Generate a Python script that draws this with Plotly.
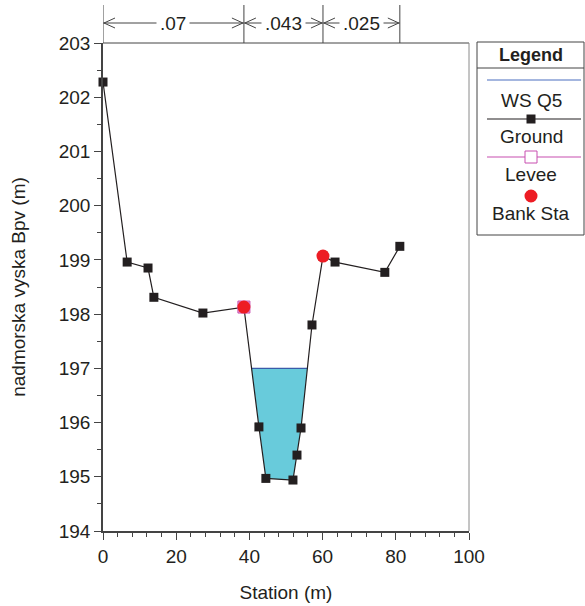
import plotly.graph_objects as go

# Cross-section survey data
station = [0, 6.6, 12.3, 13.9, 27.3, 38.5, 42.6, 44.5, 51.9, 53.0, 54.1, 57.1, 60.1, 63.4, 77.0, 81.1]
elevation = [202.28, 198.96, 198.85, 198.31, 198.02, 198.13, 195.92, 194.97, 194.94,
             195.40, 195.90, 197.80, 199.07, 198.96, 198.77, 199.25]
bank_station = [38.5, 60.1]
bank_elev = [198.13, 199.07]
levee_station = [38.5]
levee_elev = [198.13]
ws_q5 = 197.0

# Manning's n zones
n_breaks = [0, 38.5, 60.1, 81.1]
n_values = [".07", ".043", ".025"]

# Axis ticks
x_ticks = [0, 20, 40, 60, 80, 100]
y_ticks = [194, 195, 196, 197, 198, 199, 200, 201, 202, 203]

W, H = 585, 606
L, R, T, B = 103, 469, 43, 531
FONT = "Liberation Sans, Arial, sans-serif"
FS = 19
INK = "#231f20"


def px(p):
    return (p - L) / (R - L)


def py(p):
    return (B - p) / (B - T)


def water_polygon(xs, ys, level):
    """Wetted area below the water level, bounded by the ground profile."""
    pts = []
    for i in range(len(xs) - 1):
        x0, y0, x1, y1 = xs[i], ys[i], xs[i + 1], ys[i + 1]
        if y0 <= level:
            pts.append((x0, y0))
        if (y0 - level) * (y1 - level) < 0:
            t = (level - y0) / (y1 - y0)
            pts.append((x0 + t * (x1 - x0), level))
    if ys[-1] <= level:
        pts.append((xs[-1], ys[-1]))
    px_, py_ = zip(*pts)
    return list(px_) + [px_[0]], list(py_) + [py_[0]]


wx, wy = water_polygon(station, elevation, ws_q5)

fig = go.Figure()

fig.add_trace(go.Scatter(
    x=wx, y=wy, mode="lines", fill="toself",
    fillcolor="#68cbdb", line=dict(color="rgba(0,0,0,0)", width=0),
    hoverinfo="skip", showlegend=False))

# Water surface line
wet = [x for x, y in zip(wx, wy) if abs(y - ws_q5) < 1e-9]
fig.add_trace(go.Scatter(
    x=[min(wet), max(wet)], y=[ws_q5, ws_q5], mode="lines",
    line=dict(color="#3b5ba9", width=1.2), showlegend=False))

fig.add_trace(go.Scatter(
    x=station, y=elevation, mode="lines+markers", cliponaxis=False,
    line=dict(color=INK, width=1.2),
    marker=dict(symbol="square", size=9, color=INK),
    showlegend=False))

fig.add_trace(go.Scatter(
    x=levee_station, y=levee_elev, mode="markers",
    marker=dict(symbol="square", size=12, color="#e8a0d8",
                line=dict(color="#c84fb0", width=1)),
    showlegend=False))

fig.add_trace(go.Scatter(
    x=bank_station, y=bank_elev, mode="markers",
    marker=dict(symbol="circle", size=13, color="#ed1c24"),
    showlegend=False))

shapes = []
annotations = []
AX = "#444444"
LIGHT = "#8a8a8a"

# Top and right frame lines
shapes.append(dict(type="line", xref="paper", yref="paper", x0=0, x1=1, y0=1, y1=1,
                   line=dict(color=AX, width=1)))
shapes.append(dict(type="line", xref="paper", yref="paper", x0=1, x1=1, y0=0, y1=1,
                   line=dict(color=LIGHT, width=1)))

# Manning's n zone markers above the plot
arrow_y = py(23)
for b in n_breaks:
    shapes.append(dict(type="line", xref="x", yref="paper", x0=b, x1=b,
                       y0=py(5), y1=1, line=dict(color=AX, width=1)))
for i, label in enumerate(n_values):
    a, b = n_breaks[i], n_breaks[i + 1]
    shapes.append(dict(type="line", xref="x", yref="paper", x0=a, x1=b,
                       y0=arrow_y, y1=arrow_y, line=dict(color=AX, width=1)))
    shapes.append(dict(type="path", xref="x", yref="paper", xsizemode="pixel",
                       ysizemode="pixel", xanchor=a, yanchor=arrow_y,
                       path="M 12,-5 L 1,0 L 12,5", line=dict(color=AX, width=1)))
    shapes.append(dict(type="path", xref="x", yref="paper", xsizemode="pixel",
                       ysizemode="pixel", xanchor=b, yanchor=arrow_y,
                       path="M -12,-5 L -1,0 L -12,5", line=dict(color=AX, width=1)))
    annotations.append(dict(x=(a + b) / 2, y=arrow_y, xref="x", yref="paper",
                            xanchor="center", yanchor="middle",
                            text=label, showarrow=False, bgcolor="white",
                            borderpad=3, font=dict(family=FONT, size=FS, color=INK)))

# Legend box
lx0, lx1 = px(477), px(584)
shapes.append(dict(type="rect", xref="paper", yref="paper", x0=lx0, x1=lx1,
                   y0=py(235), y1=py(42), line=dict(color=AX, width=1),
                   fillcolor="white", layer="below"))
shapes.append(dict(type="line", xref="paper", yref="paper", x0=lx0, x1=lx1,
                   y0=py(68), y1=py(68), line=dict(color=AX, width=1)))
cx = px(531)
annotations.append(dict(x=cx, y=py(55), xref="paper", yref="paper", text="<b>Legend</b>",
                        xanchor="center", yanchor="middle",
                        showarrow=False, font=dict(family=FONT, size=FS - 1, color=INK)))


def legend_line(y, color):
    shapes.append(dict(type="line", xref="paper", yref="paper", x0=px(487), x1=px(581),
                       y0=py(y), y1=py(y), line=dict(color=color, width=1.2)))


def legend_text(y, text):
    annotations.append(dict(x=cx, y=py(y), xref="paper", yref="paper", text=text,
                            xanchor="center", yanchor="middle",
                            showarrow=False, font=dict(family=FONT, size=FS, color=INK)))


legend_line(80, "#4a6fc0")
legend_text(100, "WS Q5")
legend_line(119, INK)
shapes.append(dict(type="rect", xref="paper", yref="paper", xsizemode="pixel",
                   ysizemode="pixel", xanchor=cx, yanchor=py(119),
                   x0=-4.5, x1=4.5, y0=-4.5, y1=4.5, fillcolor=INK, line=dict(width=0)))
legend_text(136, "Ground")
legend_line(157, "#c84fb0")
shapes.append(dict(type="rect", xref="paper", yref="paper", xsizemode="pixel",
                   ysizemode="pixel", xanchor=cx, yanchor=py(157),
                   x0=-6, x1=6, y0=-6, y1=6, fillcolor="white",
                   line=dict(color="#c84fb0", width=1)))
legend_text(175, "Levee")
shapes.append(dict(type="circle", xref="paper", yref="paper", xsizemode="pixel",
                   ysizemode="pixel", xanchor=cx, yanchor=py(196),
                   x0=-6.5, x1=6.5, y0=-6.5, y1=6.5, fillcolor="#ed1c24", line=dict(width=0)))
legend_text(213, "Bank Sta")

fig.update_layout(
    width=W, height=H,
    margin=dict(l=L, r=W - R, t=T, b=H - B),
    plot_bgcolor="white", paper_bgcolor="white",
    font=dict(family=FONT, size=FS, color=INK),
    shapes=shapes, annotations=annotations, showlegend=False,
    xaxis=dict(range=[0, 100], tickvals=x_ticks, ticks="outside", ticklen=7,
               tickcolor=AX, showline=True, linecolor=AX, linewidth=1.5,
               showgrid=False, zeroline=False, automargin=False,
               minor=dict(dtick=4, tick0=0, ticks="outside", ticklen=4, tickcolor=AX),
               title=dict(text="Station (m)", standoff=20,
                          font=dict(family=FONT, size=FS, color=INK)),
               tickfont=dict(family=FONT, size=FS, color=INK)),
    yaxis=dict(range=[194, 203], tickvals=y_ticks, ticks="outside", ticklen=7,
               tickcolor=AX, showline=True, linecolor=AX, linewidth=1.5,
               showgrid=False, zeroline=False, automargin=False,
               minor=dict(dtick=0.5, tick0=194, ticks="outside", ticklen=4, tickcolor=AX),
               title=dict(text="nadmorska vyska Bpv (m)", standoff=28,
                          font=dict(family=FONT, size=FS, color=INK)),
               tickfont=dict(family=FONT, size=FS, color=INK)),
)

fig.write_html("out.html")
